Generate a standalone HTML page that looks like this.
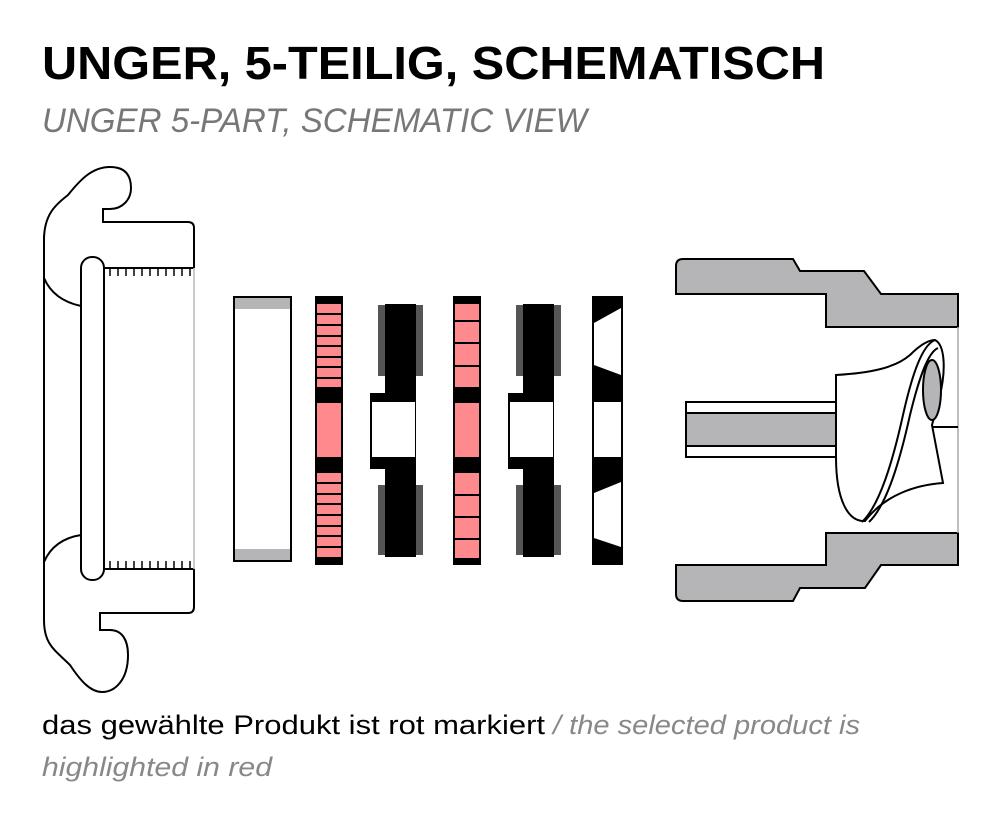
<!DOCTYPE html>
<html><head><meta charset="utf-8"><style>
html,body{margin:0;padding:0;background:#fff;}
svg{display:block;}
</style></head><body>
<svg width="1000" height="817" viewBox="0 0 1000 817" xmlns="http://www.w3.org/2000/svg">
<text x="42" y="79" font-family="Liberation Sans, sans-serif" font-weight="bold" font-size="46" textLength="783" lengthAdjust="spacingAndGlyphs" fill="#000">UNGER, 5-TEILIG, SCHEMATISCH</text>
<text x="42" y="132" font-family="Liberation Sans, sans-serif" font-style="italic" font-size="34" textLength="545" lengthAdjust="spacingAndGlyphs" fill="#777">UNGER 5-PART, SCHEMATIC VIEW</text>

<!-- left part -->
<g fill="none" stroke="#000" stroke-width="2">
<path d="M44,240 C44,215 55,205 68,195 C80,180 92,167 110,167 C125,167 131,175 131,188 C131,200 122,209 110,209 L103,209 L103,222 L188,222 Q194,222 194,228 L194,268"/>
<path d="M44,235 L44,620"/>
<path d="M44,278 C50,292 62,302 81,306"/>
<path d="M81,535 C62,538 50,548 44,562"/>
<path d="M194,569 L194,607 Q194,613 188,613 L100,613 L100,630 L110,630 C122,630 128,640 128,655 C128,680 115,692 102,692 C90,692 80,680 70,665 C55,650 44,645 44,620"/>
<rect x="81" y="257" width="23" height="323" rx="11" fill="#fff"/>
<path d="M104,268 H194 M104,569 H194"/>
</g>
<line x1="194" y1="268" x2="194" y2="569" stroke="#bbb" stroke-width="1.5"/>
<g stroke="#000" stroke-width="1.5">
<path d="M110,268 v8 M118,268 v8 M126,268 v8 M134,268 v8 M142,268 v8 M150,268 v8 M158,268 v8 M166,268 v8 M174,268 v8 M182,268 v8 M190,268 v8"/>
<path d="M110,569 v-8 M118,569 v-8 M126,569 v-8 M134,569 v-8 M142,569 v-8 M150,569 v-8 M158,569 v-8 M166,569 v-8 M174,569 v-8 M182,569 v-8 M190,569 v-8"/>
</g>

<!-- white ring -->
<rect x="234" y="297" width="57" height="264" fill="#fff" stroke="#000" stroke-width="2"/>
<rect x="235" y="298" width="55" height="11" fill="#b5b5b7"/>
<rect x="235" y="549" width="55" height="11" fill="#b5b5b7"/>

<!-- pink strip 1 -->
<rect x="315" y="296" width="28" height="269" fill="#000"/>
<g fill="#ff8a8e">
<rect x="317" y="304" width="24" height="9"/><rect x="317" y="315" width="24" height="9"/><rect x="317" y="326" width="24" height="9"/><rect x="317" y="337" width="24" height="8"/><rect x="317" y="347" width="24" height="9"/><rect x="317" y="358" width="24" height="8"/><rect x="317" y="368" width="24" height="9"/><rect x="317" y="379" width="24" height="8"/>
<rect x="317" y="403" width="24" height="54"/>
<rect x="317" y="473" width="24" height="9"/><rect x="317" y="484" width="24" height="9"/><rect x="317" y="495" width="24" height="8"/><rect x="317" y="505" width="24" height="9"/><rect x="317" y="516" width="24" height="9"/><rect x="317" y="527" width="24" height="8"/><rect x="317" y="537" width="24" height="9"/><rect x="317" y="548" width="24" height="9"/>
</g>

<!-- black piece 1 -->
<g>
<rect x="378" y="305" width="45" height="71" fill="#555"/>
<rect x="378" y="485" width="45" height="70" fill="#555"/>
<rect x="385" y="304" width="31" height="253" fill="#000"/>
<rect x="370" y="393" width="46" height="76" fill="#000"/>
<rect x="372" y="402" width="43" height="55" fill="#fff"/>
</g>

<!-- pink strip 2 -->
<rect x="453" y="296" width="28" height="269" fill="#000"/>
<g fill="#ff8a8e">
<rect x="455" y="304" width="24" height="16"/><rect x="455" y="322" width="24" height="20"/><rect x="455" y="344" width="24" height="21"/><rect x="455" y="367" width="24" height="20"/>
<rect x="455" y="403" width="24" height="54"/>
<rect x="455" y="473" width="24" height="21"/><rect x="455" y="496" width="24" height="20"/><rect x="455" y="518" width="24" height="20"/><rect x="455" y="540" width="24" height="18"/>
</g>

<!-- black piece 2 -->
<g>
<rect x="516" y="305" width="45" height="71" fill="#555"/>
<rect x="516" y="485" width="45" height="70" fill="#555"/>
<rect x="523" y="304" width="31" height="253" fill="#000"/>
<rect x="508" y="393" width="46" height="76" fill="#000"/>
<rect x="510" y="402" width="43" height="55" fill="#fff"/>
</g>

<!-- last piece -->
<rect x="592" y="296" width="31" height="269" fill="#000"/>
<polygon points="594,323 621,308 621,375 594,365" fill="#fff"/>
<rect x="594" y="402" width="27" height="55" fill="#fff"/>
<polygon points="594,493 621,482 621,547 594,538" fill="#fff"/>

<!-- right part -->
<g fill="#b5b5b7" stroke="#000" stroke-width="2">
<path d="M683,259 L793,259 L800,271 L864,271 L881,294 L958,294 L958,327 L826,327 L826,294 L676,294 L676,266 Q676,259 683,259 Z"/>
<path d="M826,533 L958,533 L958,565 L881,565 L865,588 L800,588 L793,601 L683,601 Q676,601 676,594 L676,565 L826,565 Z"/>
</g>
<line x1="958" y1="327" x2="958" y2="533" stroke="#aaa" stroke-width="1.5"/>
<rect x="686" y="402" width="151" height="55" fill="#fff" stroke="#000" stroke-width="2"/>
<rect x="686" y="413" width="151" height="33" fill="#b5b5b7" stroke="#000" stroke-width="2"/>
<g stroke="#000" stroke-width="2" fill="#fff">
<path d="M836,375 C870,373 895,368 910,355 C920,345 928,340 935,340 C945,345 946,370 940,395 L932,425 L943,483 C915,485 885,495 865,521 C848,522 836,500 836,457 Z"/>
<path d="M862,522 C880,505 893,460 903,415 C912,375 922,345 935,340" fill="none"/>
<path d="M869,522 C887,505 900,460 910,415 C919,378 928,352 938,348" fill="none"/>
<ellipse cx="932" cy="390" rx="9" ry="30" fill="#b5b5b7"/>
<line x1="932" y1="427" x2="958" y2="427"/>
</g>

<text x="42" y="734" font-family="Liberation Sans, sans-serif" font-size="27" textLength="503" lengthAdjust="spacingAndGlyphs" fill="#000">das gewählte Produkt ist rot markiert</text>
<text x="553" y="734" font-family="Liberation Sans, sans-serif" font-style="italic" font-size="27" textLength="307" lengthAdjust="spacingAndGlyphs" fill="#888">/ the selected product is</text>
<text x="42" y="776" font-family="Liberation Sans, sans-serif" font-style="italic" font-size="27" textLength="230" lengthAdjust="spacingAndGlyphs" fill="#888">highlighted in red</text>
</svg>
</body></html>
